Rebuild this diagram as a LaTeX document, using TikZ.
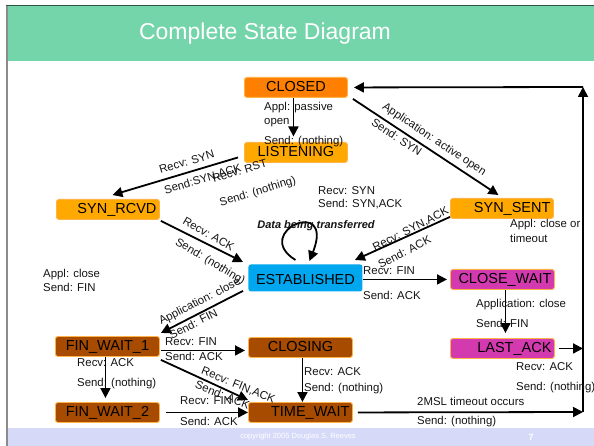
\documentclass[tikz,border=0pt]{standalone}
\usepackage{fontspec}
\setmainfont{Liberation Sans}
\usetikzlibrary{arrows.meta,calc}

\definecolor{titlegreen}{HTML}{74D4AA}
\definecolor{footlav}{HTML}{D6DAF8}
\definecolor{stClosed}{HTML}{FF8000}
\definecolor{stOrange}{HTML}{FFA800}
\definecolor{stBrown}{HTML}{A64B00}
\definecolor{stMagenta}{HTML}{D43AB0}
\definecolor{stBlue}{HTML}{00A6EE}
\definecolor{stEdge}{HTML}{FFB347}
\definecolor{ink}{HTML}{141414}

\begin{document}
\begin{tikzpicture}[x=1pt,y=-1pt,
  state/.style={rounded corners=2.5pt, draw=stEdge, line width=0.9pt, anchor=north west,
    minimum height=20pt, inner xsep=3pt, inner ysep=0pt, text height=10.5pt, text depth=3.1pt,
    font=\fontsize{14.5}{16}\selectfont, text=black},
  lbl/.style={font=\fontsize{11.4}{13}\selectfont, text=ink, inner sep=0pt,
    text height=8pt, text depth=2.5pt},
  lblw/.style={lbl, anchor=west},
  arr/.style={line width=1.8pt, -{Triangle[length=10pt,width=10pt]}}
]
\useasboundingbox (0,0) rectangle (594,446);
\fill[white] (0,0) rectangle (594,446);

% slide frame: title bar, footer, left rule
\fill[titlegreen] (7,6) rectangle (594,61.5);
\fill[footlav] (8,428) rectangle (594,446);
\draw[line width=2pt, gray!90] (7,5) -- (7,446);
\draw[line width=0.8pt, black!60!titlegreen] (6,5.5) -- (594,5.5);
\node[font=\fontsize{23}{26}\selectfont, text=white] (title) at (265,34) {Complete State Diagram};
\node[font=\fontsize{7.5}{9}\selectfont, text=white] (copy) at (298,437) {copyright 2005 Douglas S. Reeves};
\node[font=\bfseries\fontsize{9}{10}\selectfont, text=white] (pageno) at (531,437) {7};

% states
\node[state, fill=stClosed, text width=97pt, align=center] (closed) at (244,77) {CLOSED};
\node[state, fill=stOrange, text width=97pt, align=center] (listen) at (244,142) {LISTENING};
\node[state, fill=stOrange, text width=97pt, align=right] (synrcvd) at (56,199) {SYN\_RCVD};
\node[state, fill=stOrange, text width=97pt, align=right] (synsent) at (450,198) {SYN\_SENT};
\node[state, fill=stBlue, draw=none, text width=108pt, minimum height=27pt, align=center,
      text height=14pt, text depth=0.6pt] (est) at (248,264) {ESTABLISHED};
\node[state, fill=stMagenta, text width=98pt, align=right] (closewait) at (450,269) {CLOSE\_WAIT};
\node[state, fill=stMagenta, text width=98pt, align=right] (lastack) at (450,338) {LAST\_ACK};
\node[state, fill=stBrown, text width=98pt, align=center] (fw1) at (55,336) {FIN\_WAIT\_1};
\node[state, fill=stBrown, text width=98pt, align=center] (fw2) at (55,402) {FIN\_WAIT\_2};
\node[state, fill=stBrown, text width=98pt, align=center] (closing) at (248,337) {CLOSING};
\node[state, fill=stBrown, text width=98pt, align=right] (timewait) at (248,402) {TIME\_WAIT};

% return path to CLOSED along the right edge
\coordinate (rtop) at (583,87);
\coordinate (rbot) at (583,412);

% transitions
\draw[arr, shorten >=5.5pt] ([xshift=-2.5pt]closed.south) -- ([xshift=-2.5pt]listen.north);
\draw[arr] (rbot) -- (rtop);
\draw[arr, shorten >=6pt] (rtop) -- (closed.east);
\draw[arr] ([shift={(5,1)}]closed.south east) -- ([shift={(-3.5,-3)}]synsent.north);
\draw[arr] ([shift={(-6,5)}]listen.west) -- ([shift={(4.5,-4)}]synrcvd.north);
\draw[arr] ([shift={(1,1)}]synrcvd.south east) -- ([shift={(-5,-2)}]est.north west);
\draw[arr] ([shift={(0,-2)}]synsent.south west) -- ([shift={(-8,-4)}]est.north east);
\draw[arr] ([shift={(-10,-4)}]est.north) .. controls ($(est.north)+(-55,-32)$) and ($(est.north)+(30,-69)$) .. ([shift={(4,-3)}]est.north);
\draw[arr, shorten >=3pt] (est.east |- closewait.west) -- (closewait.west);
\draw[arr] ([shift={(-5,-1)}]est.south west) -- ([shift={(1,-3)}]fw1.north east);
\draw[arr, shorten >=5pt] ([xshift=3pt]closewait.south) -- ([xshift=3pt]lastack.north);
\draw[arr] ([xshift=4pt]lastack.east) -- (lastack.east -| rtop);
\draw[arr] ([shift={(1,4)}]fw1.east) -- ([shift={(-3,3)}]closing.west);
\draw[arr, shorten >=4pt] ([xshift=-2pt]fw1.south) -- ([xshift=-2pt]fw2.north);
\draw[arr] ([shift={(1,3)}]fw1.south east) -- ([shift={(0,-2)}]timewait.north west);
\draw[arr] ([xshift=6pt]fw2.east) -- (timewait.west);
\draw[arr] ([xshift=2pt]closing.south) -- ([xshift=2pt]timewait.north);
\draw[arr] ([xshift=5pt]timewait.east) -- (rbot);

% transition labels
\node[lblw] (t1a) at (264,108) {Appl: passive};
\node[lblw] (t1b) at (264,122) {open};
\node[lblw] (t1c) at (264,142) {Send: (nothing)};
\node[lbl, rotate=-33.6] (t2a) at (434,140) {Application: active open};
\node[lbl, rotate=-33.6] (t2b) at (396,138) {Send: SYN};
\node[lbl, rotate=16.8] (t3a) at (187,163) {Recv: SYN};
\node[lbl, rotate=16.8] (t3b) at (203,180) {Send:SYN,ACK};
\node[lbl, rotate=16.8] (t4a) at (240,172) {Recv: RST};
\node[lbl, rotate=16.8] (t4b) at (258,192) {Send: (nothing)};
\node[lblw] (t5a) at (318,192) {Recv: SYN};
\node[lblw] (t5b) at (318,205) {Send: SYN,ACK};
\node[lbl, font=\fontsize{11}{13}\selectfont\bfseries\itshape] (t6) at (316,226) {Data being transferred};
\node[lbl, rotate=-30] (t7a) at (208,235) {Recv: ACK};
\node[lbl, rotate=-31] (t7b) at (210,262) {Send: (nothing)};
\node[lbl, rotate=27] (t8a) at (411,230) {Recv: SYN,ACK};
\node[lbl, rotate=27] (t8b) at (405,253) {Send: ACK};
\node[lblw] (t9a) at (510,225) {Appl: close or};
\node[lblw] (t9b) at (510,240) {timeout};
\node[lblw] (t10a) at (363,272) {Recv: FIN};
\node[lblw] (t10b) at (363,297) {Send: ACK};
\node[lblw] (t11a) at (43,275) {Appl: close};
\node[lblw] (t11b) at (43,289) {Send: FIN};
\node[lbl, rotate=27] (t12a) at (200,302) {Application: close};
\node[lbl, rotate=27] (t12b) at (194,325) {Send: FIN};
\node[lblw] (t13a) at (476,305) {Application: close};
\node[lblw] (t13b) at (476,325) {Send: FIN};
\node[lblw] (t14a) at (516,368) {Recv: ACK};
\node[lblw] (t14b) at (516,388) {Send: (nothing)};
\node[lblw] (t15a) at (165,343) {Recv: FIN};
\node[lblw] (t15b) at (165,358) {Send: ACK};
\node[lblw] (t16a) at (77,364) {Recv: ACK};
\node[lblw] (t16b) at (77,384) {Send: (nothing)};
\node[lbl, rotate=-22] (t17a) at (238,386) {Recv: FIN,ACK};
\node[lbl, rotate=-22] (t17b) at (222,396) {Send: ACK};
\node[lblw] (t18a) at (180,402) {Recv: FIN};
\node[lblw] (t18b) at (180,423) {Send: ACK};
\node[lblw] (t19a) at (304,373) {Recv: ACK};
\node[lblw] (t19b) at (304,389) {Send: (nothing)};
\node[lblw] (t20a) at (417,403) {2MSL timeout occurs};
\node[lblw] (t20b) at (417,422) {Send: (nothing)};
\end{tikzpicture}
\end{document}
